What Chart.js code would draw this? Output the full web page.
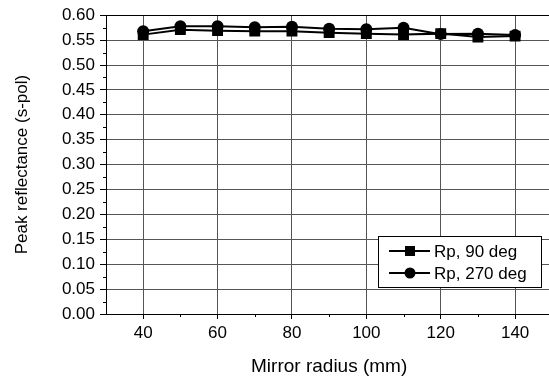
<!DOCTYPE html>
<html>
<head>
<meta charset="utf-8">
<script src="https://cdn.jsdelivr.net/npm/chart.js@4"></script>
<style>
body { margin: 0; overflow: hidden; background: #fff; }
canvas { display: block; }
</style>
</head>
<body>
<canvas id="myChart" width="560" height="379"></canvas>
<script>
// data
radius = [40, 50, 60, 70, 80, 90, 100, 110, 120, 130, 140];
rp90 = [0.561, 0.571, 0.569, 0.568, 0.568, 0.565, 0.563, 0.561, 0.563, 0.556, 0.558];
rp270 = [0.568, 0.578, 0.578, 0.576, 0.577, 0.573, 0.572, 0.575, 0.562, 0.563, 0.560];
series_names = ['Rp, 90 deg', 'Rp, 270 deg'];
x_labels = [40, 60, 80, 100, 120, 140];

var FONT = "'Liberation Sans', Arial, sans-serif";

function isMajorY(v) {
  var k = v / 0.05;
  return Math.abs(k - Math.round(k)) < 1e-6;
}
function isMajorX(v) {
  return x_labels.indexOf(Math.round(v)) >= 0;
}

// short minor ticks + legend box inside plot
var extras = {
  id: 'extras',
  afterDraw: function(chart) {
    var c = chart.ctx;
    var xs = chart.scales.x, ys = chart.scales.y;
    c.save();
    c.strokeStyle = '#000';
    c.lineWidth = 1;
    c.beginPath();
    ys.ticks.forEach(function(t) {
      if (!isMajorY(t.value)) {
        var y = Math.round(ys.getPixelForValue(t.value)) + 0.5;
        c.moveTo(xs.left - 3, y); c.lineTo(xs.left, y);
      }
    });
    xs.ticks.forEach(function(t) {
      if (!isMajorX(t.value) && t.value > xs.min && t.value < xs.max) {
        var x = Math.round(xs.getPixelForValue(t.value)) + 0.5;
        c.moveTo(x, ys.bottom); c.lineTo(x, ys.bottom + 3);
      }
    });
    c.stroke();

    // legend
    var bx = 378.5, by = 236.5, bw = 163, bh = 51;
    c.fillStyle = '#fff';
    c.fillRect(bx, by, bw, bh);
    c.strokeRect(bx, by, bw, bh);
    var rows = [251, 273];
    chart.data.datasets.forEach(function(ds, i) {
      var y = rows[i];
      c.beginPath();
      c.lineWidth = 2;
      c.moveTo(389, y); c.lineTo(430, y);
      c.stroke();
      c.fillStyle = '#000';
      if (ds.pointStyle === 'rect') {
        c.fillRect(405, y - 5, 10, 10);
      } else {
        c.beginPath();
        c.arc(410, y, 5.5, 0, Math.PI * 2);
        c.fill();
      }
      c.font = '17px ' + FONT;
      c.textBaseline = 'middle';
      c.textAlign = 'left';
      c.fillText(ds.label, 434, y + 1);
    });
    c.restore();
  }
};

var ctx = document.getElementById('myChart').getContext('2d');
var myChart = new Chart(ctx, {
  type: 'line',
  data: {
    datasets: [
      {
        label: series_names[0],
        data: radius.map(function(r, i) { return {x: r, y: rp90[i]}; }),
        borderColor: '#000',
        backgroundColor: '#000',
        borderWidth: 2,
        pointStyle: 'rect',
        pointRadius: 7.7,
        pointBorderWidth: 0,
        tension: 0
      },
      {
        label: series_names[1],
        data: radius.map(function(r, i) { return {x: r, y: rp270[i]}; }),
        borderColor: '#000',
        backgroundColor: '#000',
        borderWidth: 2,
        pointStyle: 'circle',
        pointRadius: 6,
        pointBorderWidth: 0,
        tension: 0
      }
    ]
  },
  options: {
    responsive: false,
    animation: false,
    layout: { padding: { top: 14, right: 4, left: 0, bottom: 0 } },
    plugins: { legend: { display: false }, tooltip: { enabled: false } },
    scales: {
      x: {
        type: 'linear',
        min: 30,
        max: 150,
        afterFit: function(s) { s.height = 65; },
        ticks: {
          stepSize: 10,
          autoSkip: false,
          maxRotation: 0,
          padding: 4,
          color: '#000',
          font: { family: FONT, size: 17 },
          callback: function(v) { return isMajorX(v) ? String(v) : ''; }
        },
        grid: {
          drawOnChartArea: true,
          tickLength: 5,
          color: function(c) { return (c.tick && isMajorX(c.tick.value)) ? '#555' : 'rgba(0,0,0,0)'; },
          tickColor: function(c) { return (c.tick && isMajorX(c.tick.value)) ? '#000' : 'rgba(0,0,0,0)'; }
        },
        border: { color: '#000', width: 1 },
        title: {
          display: true,
          text: 'Mirror radius (mm)',
          color: '#000',
          font: { family: FONT, size: 19 },
          padding: { top: 0, bottom: 1 }
        }
      },
      y: {
        min: 0,
        max: 0.6,
        afterFit: function(s) { s.width = 106; },
        ticks: {
          stepSize: 0.025,
          autoSkip: false,
          padding: 5,
          color: '#000',
          font: { family: FONT, size: 17 },
          callback: function(v) { return isMajorY(v) ? v.toFixed(2) : ''; }
        },
        grid: {
          tickLength: 6,
          color: function(c) {
            if (!c.tick || !isMajorY(c.tick.value)) return 'rgba(0,0,0,0)';
            return Math.abs(c.tick.value - 0.6) < 1e-6 ? '#000' : '#555';
          },
          tickColor: function(c) { return (c.tick && isMajorY(c.tick.value)) ? '#000' : 'rgba(0,0,0,0)'; }
        },
        border: { color: '#000', width: 1 },
        title: {
          display: true,
          text: 'Peak reflectance (s-pol)',
          color: '#000',
          font: { family: FONT, size: 17 },
          padding: { top: 12, bottom: 0 }
        }
      }
    }
  },
  plugins: [extras]
});
</script>
</body>
</html>
